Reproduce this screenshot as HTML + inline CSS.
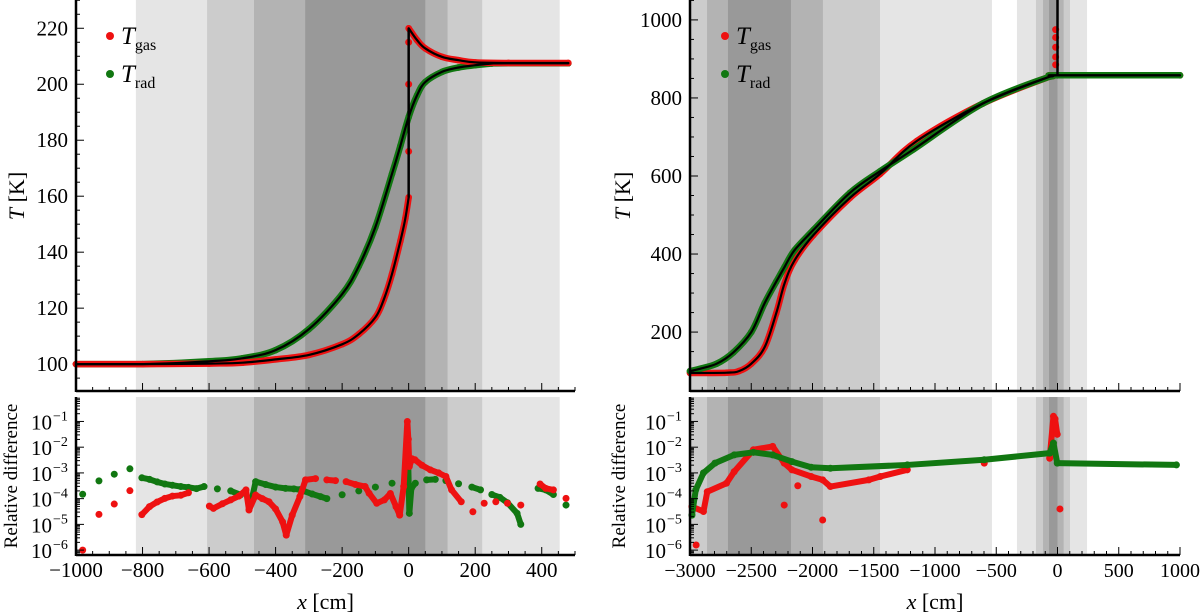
<!DOCTYPE html>
<html><head><meta charset="utf-8"><style>
html,body{margin:0;padding:0;background:#fff;}
svg{display:block;font-family:"Liberation Serif",serif;}
</style></head><body>
<svg id="fig" width="1200" height="614" viewBox="0 0 1200 614" xmlns="http://www.w3.org/2000/svg"></svg>
<script>
// ---------- LEFT PANEL DATA ----------
const leftBands = [[-820,454,'#e5e5e5'],[-606,221,'#cccccc'],[-465,117,'#b3b3b3'],[-311,50,'#999999']];
const leftGasX = [-1000,-800,-600,-500,-400,-300,-200,-150,-100,-75,-50,-25,-10,0];
const leftGasT = [100,100,100.2,100.5,101.7,103.3,107.1,110.7,116.7,123,132.2,144,152,159.6];
const leftGasPostX = [0,25,50,100,150,200,300,480];
const leftGasPostT = [220,215.8,212.8,209.8,208.6,207.8,207.6,207.6];
const leftGasShockT = [176,200,215];
const leftRadX = [-1000,-800,-600,-500,-400,-300,-200,-150,-100,-50,-25,0,25,50,100,150,200,250,300,480];
const leftRadT = [100,100,101,102.1,105,112.5,125,135,149,168,178,188.3,196,200.8,204.4,206,206.8,207.4,207.5,207.5];
const leftRelGasX = [-980,-931,-885,-838,-802,-779,-756,-733,-710,-685,-662,-599,-587,-560,-535,-510,-489,-480,-460,-440,-420,-400,-379,-368,-350,-327,-310,-280,-246,-220,-188,-160,-131,-119,-96,-73,-55,-38,-27,-15,-4,-1,2,10,19,40,65,90,112,129,158,193,227,262,297,337,395,412,435,473];
const leftRelGasL = [-6.0,-4.61,-4.21,-3.69,-4.62,-4.31,-4.13,-3.99,-3.90,-3.87,-3.77,-4.29,-4.38,-4.2,-4.05,-3.9,-3.66,-4.44,-3.86,-4.0,-4.12,-4.4,-4.90,-5.42,-4.64,-3.92,-3.27,-3.22,-3.27,-3.3,-3.34,-3.45,-3.53,-3.79,-4.18,-4.05,-3.8,-4.31,-4.64,-3.53,-1.0,-1.69,-2.75,-2.45,-2.49,-2.7,-2.88,-3.0,-3.14,-3.66,-4.12,-4.51,-4.18,-4.12,-4.18,-4.25,-3.43,-3.60,-3.66,-3.99];
const leftRelRadX = [-980,-931,-885,-838,-802,-779,-756,-733,-710,-685,-662,-638,-615,-575,-535,-505,-472,-460,-430,-400,-370,-345,-327,-316,-290,-265,-246,-200,-150,-100,-50,-9,-4,-2,2,8,20,54,80,112,150,190,216,250,274,297,326,337,389,412,435,473];
const leftRelRadL = [-3.83,-3.31,-3.05,-2.84,-3.19,-3.25,-3.35,-3.43,-3.48,-3.53,-3.56,-3.61,-3.53,-3.62,-3.70,-3.85,-4.05,-3.34,-3.45,-3.55,-3.6,-3.62,-3.65,-3.70,-3.82,-3.92,-4.0,-3.85,-3.7,-3.55,-3.4,-3.3,-2.4,-2.23,-4.57,-3.6,-3.4,-3.27,-3.25,-3.30,-3.42,-3.55,-3.66,-3.84,-3.95,-4.16,-4.57,-5.0,-3.60,-3.66,-3.84,-4.25];
const leftXTicks = [-1000,-800,-600,-400,-200,0,200,400];
const leftYTicks = [100,120,140,160,180,200,220];

// ---------- RIGHT PANEL DATA ----------
const rightBands = [[-3000,-535,'#e5e5e5'],[-3000,-1449,'#cccccc'],[-2861,-1915,'#b3b3b3'],[-2690,-2176,'#999999'],
  [-331,241,'#e5e5e5'],[-176,102,'#cccccc'],[-118,50,'#b3b3b3'],[-69,0,'#999999']];
const rightGasX = [-3000,-2700,-2600,-2500,-2391,-2296,-2228,-2146,-1991,-1694,-1449,-1147,-608,-61,0,1000];
const rightGasT = [95,96,100,119,161,248,325,384,449,544,605,690,786,855,858,858];
const rightRadX = [-3000,-2918,-2782,-2646,-2500,-2391,-2296,-2228,-2146,-1991,-1694,-1449,-1177,-608,-61,0,1000];
const rightRadT = [100,106,119,148,200,274,329,367,410,462,557,612,668,786,855,858,858];
const rightGasSpikeT = [885,905,930,955,975];
const rightRelRadX = [-2984,-2953,-2890,-2796,-2639,-2482,-2325,-2168,-2011,-1854,-1226,-598,-64,-33,-2,971];
const rightRelRadL = [-4.64,-3.66,-3.0,-2.62,-2.3,-2.2,-2.3,-2.56,-2.78,-2.82,-2.69,-2.49,-2.23,-1.84,-2.62,-2.69];
const rightRelGasX = [-2984,-2890,-2859,-2702,-2639,-2482,-2325,-2231,-2168,-2011,-1917,-1854,-1540,-1446,-1226,-598,-64,-33,-20,-2];
const rightRelGasL = [-4.31,-4.5,-3.73,-3.4,-2.95,-2.1,-1.97,-2.62,-2.88,-3.14,-3.27,-3.53,-3.27,-3.14,-2.88,-2.62,-2.43,-0.8,-0.9,-1.5];
const rightRelGasOutX = [-2950,-2231,-2120,-1917,20];
const rightRelGasOutL = [-5.8,-4.25,-3.5,-4.83,-4.4];
const rightXTicks = [-3000,-2500,-2000,-1500,-1000,-500,0,500,1000];
const rightYTicks = [200,400,600,800,1000];
const logTicks = [-6,-5,-4,-3,-2,-1];

const NS='http://www.w3.org/2000/svg';
const svg=document.getElementById('fig');
function mk(tag,attrs,parent){const e=document.createElementNS(NS,tag);for(const k in attrs)e.setAttribute(k,attrs[k]);(parent||svg).appendChild(e);return e;}
function lin(d0,d1,r0,r1){return v=>r0+(v-d0)*(r1-r0)/(d1-d0);}
const RED='#ee1111', GREEN='#117711';

function smoothPath(pts){
  // monotone-ish Catmull-Rom (drawing only)
  let d='M'+pts[0][0].toFixed(1)+','+pts[0][1].toFixed(1);
  for(let i=0;i<pts.length-1;i++){
    const p0=pts[Math.max(i-1,0)],p1=pts[i],p2=pts[i+1],p3=pts[Math.min(i+2,pts.length-1)];
    const t=1/6;
    let c1x=p1[0]+(p2[0]-p0[0])*t, c1y=p1[1]+(p2[1]-p0[1])*t;
    let c2x=p2[0]-(p3[0]-p1[0])*t, c2y=p2[1]-(p3[1]-p1[1])*t;
    const lo=Math.min(p1[1],p2[1]),hi=Math.max(p1[1],p2[1]);
    c1y=Math.min(hi,Math.max(lo,c1y)); c2y=Math.min(hi,Math.max(lo,c2y));
    d+=' C'+c1x.toFixed(1)+','+c1y.toFixed(1)+' '+c2x.toFixed(1)+','+c2y.toFixed(1)+' '+p2[0].toFixed(1)+','+p2[1].toFixed(1);
  }
  return d;
}

function drawPanel(c){
  const g=mk('g',{});
  
  
  const X=lin(c.xd[0],c.xd[1],c.px0,c.px1);
  const Y=lin(c.td[0],c.td[1],c.ty1,c.ty0);
  const L=lin(c.ld[0],c.ld[1],c.by1,c.by0);
  c.bands.forEach(b=>{
    [[c.ty0,c.ty1],[c.by0,c.by1]].forEach(r=>{
      const x0=Math.max(X(b[0]),c.px0), x1=Math.min(X(b[1]),c.px1);
      const e=mk('rect',{x:x0,y:r[0],width:x1-x0,height:r[1]-r[0],fill:b[2]},g);
      
      
    });
  });
  function curve(xs,ys,sc,col,w,nm){
    const e=mk('path',{d:smoothPath(xs.map((x,i)=>[X(x),sc(ys[i])])),fill:'none',stroke:col,'stroke-width':w,'stroke-linejoin':'round','stroke-linecap':'round'},g);
    
    
  }
  function dots(xs,ys,sc,col,r,nm){
    xs.forEach((x,i)=>{
      const e=mk('circle',{cx:X(x),cy:sc(ys[i]),r:r,fill:col},g);
      
      
    });
  }
  c.top.forEach(s=>{curve(s.x,s.y,Y,s.col,6.5,s.nm);dots(s.x,s.y,Y,s.col,3.3,s.nm+'-point');});
  c.top.forEach(s=>curve(s.x,s.y,Y,'#000',2.2,s.nm+'-exact'));
  c.extraTop(g,X,Y,dots);
  function relSeries(xs,ls,col,gap,nm){
    for(let i=1;i<xs.length;i++){
      if(xs[i]-xs[i-1]<=gap){
        const e=mk('line',{x1:X(xs[i-1]),y1:L(ls[i-1]),x2:X(xs[i]),y2:L(ls[i]),stroke:col,'stroke-width':6,'stroke-linecap':'round'},g);
        
        
      }
    }
    dots(xs,ls,L,col,3.5,nm+'-point');
  }
  c.rel.forEach(s=>relSeries(s.x,s.l,s.col,s.gap,s.nm));
  [[c.ty0,c.ty1],[c.by0,c.by1]].forEach(r=>{
    mk('line',{x1:c.px0,y1:r[0],x2:c.px0,y2:r[1]+1,stroke:'#000','stroke-width':2.5},g);
    mk('line',{x1:c.px0,y1:r[1],x2:c.px1,y2:r[1],stroke:'#000','stroke-width':2.5},g);
    for(let v=c.xd[0];v<=c.xd[1];v+=c.xMinor){
      const maj=Math.abs(v%c.xMajor)<1e-6;
      mk('line',{x1:X(v),y1:r[1],x2:X(v),y2:r[1]-(maj?8:4),stroke:'#000','stroke-width':1},g);
    }
  });
  for(let v=Math.ceil(c.td[0]/c.yMinor)*c.yMinor;v<=c.td[1];v+=c.yMinor){
    const maj=c.yTicks.includes(v);
    mk('line',{x1:c.px0,y1:Y(v),x2:c.px0+(maj?8:4),y2:Y(v),stroke:'#000','stroke-width':1},g);
  }
  c.yTicks.forEach(v=>{
    const t=mk('text',{x:c.px0-8,y:Y(v)+7,'text-anchor':'end','font-size':21},g);
    t.textContent=v;
    
    
  });
  for(let d=-7;d<=0;d++){
    for(let k=1;k<10;k++){
      const lv=d+Math.log10(k);
      if(lv<c.ld[0]||lv>c.ld[1])continue;
      mk('line',{x1:c.px0,y1:L(lv),x2:c.px0+(k==1?8:4),y2:L(lv),stroke:'#000','stroke-width':1},g);
    }
  }
  logTicks.forEach(d=>{
    const t=mk('text',{x:c.px0-24,y:L(d)+8,'text-anchor':'end','font-size':21},g);
    t.textContent='10';
    
    
    const s=mk('text',{x:c.px0-23,y:L(d)-1,'text-anchor':'start','font-size':14},g);
    s.textContent='−'+(-d);
  });
  c.xTicks.forEach(v=>{
    const t=mk('text',{x:X(v),y:577,'text-anchor':'middle','font-size':c.xfs},g);
    t.textContent=(v<0?'−':'')+Math.abs(v);
    
    
  });
  const xl=mk('text',{x:(c.px0+c.px1)/2,y:609,'text-anchor':'middle','font-size':22},g);
  xl.innerHTML='<tspan font-style="italic">x</tspan> [cm]';
  
  
  const yl=mk('text',{transform:`translate(${c.ylx},196) rotate(-90)`,'text-anchor':'middle','font-size':22},g);
  yl.innerHTML='<tspan font-style="italic">T</tspan> [K]';
  
  
  const rl=mk('text',{transform:`translate(${c.rlx},476) rotate(-90)`,'text-anchor':'middle','font-size':19},g);
  rl.textContent='Relative difference';
  
  
  [['gas',RED,36],['rad',GREEN,74]].forEach(l=>{
    const lg=mk('g',{},g);
    
    
    mk('circle',{cx:c.legx,cy:l[2],r:4,fill:l[1]},lg);
    const t=mk('text',{x:c.legx+11,y:l[2]+8,'font-size':25},lg);
    t.innerHTML='<tspan font-style="italic">T</tspan><tspan font-size="16" dy="6">'+l[0]+'</tspan>';
  });
}

drawPanel({name:'left-panel',px0:76,px1:575,xd:[-1000,500],ty0:0,ty1:391,td:[90.4,230.1],by0:397,by1:555,ld:[-6.19,-0.05],
  bands:leftBands,xMajor:200,xMinor:50,yMinor:5,yTicks:leftYTicks,xTicks:leftXTicks,xfs:21,ylx:24,rlx:17,legx:110,
  top:[{x:leftRadX,y:leftRadT,col:GREEN,nm:'t-rad-series'},{x:leftGasX,y:leftGasT,col:RED,nm:'t-gas-series'},{x:leftGasPostX,y:leftGasPostT,col:RED,nm:'t-gas-postshock-series'}],
  extraTop:(g,X,Y,dots)=>{
    dots(leftGasShockT.map(()=>0),leftGasShockT,Y,RED,3.5,'t-gas-shock-point');
    const e=mk('line',{x1:X(0),y1:Y(leftGasT[leftGasT.length-1]),x2:X(0),y2:Y(leftGasPostT[0]),stroke:'#000','stroke-width':2.5},g);
    
    
  },
  rel:[{x:leftRelRadX,l:leftRelRadL,col:GREEN,gap:31,nm:'rel-diff-rad'},{x:leftRelGasX,l:leftRelGasL,col:RED,gap:31,nm:'rel-diff-gas'}]
});
drawPanel({name:'right-panel',px0:690,px1:1180,xd:[-3000,1000],ty0:0,ty1:391,td:[49,1051],by0:397,by1:555,ld:[-6.19,-0.05],
  bands:rightBands,xMajor:500,xMinor:100,yMinor:50,yTicks:rightYTicks,xTicks:rightXTicks,xfs:20,ylx:630,rlx:625,legx:725,
  top:[{x:rightGasX,y:rightGasT,col:RED,nm:'t-gas-series'},{x:rightRadX,y:rightRadT,col:GREEN,nm:'t-rad-series'}],
  extraTop:(g,X,Y,dots)=>{
    dots(rightGasSpikeT.map(()=>-15),rightGasSpikeT,Y,RED,3.5,'t-gas-spike-point');
    const e=mk('line',{x1:X(0),y1:Y(858),x2:X(0),y2:0,stroke:'#000','stroke-width':2.5},g);
    
    
  },
  rel:[{x:rightRelGasX,l:rightRelGasL,col:RED,gap:400,nm:'rel-diff-gas'},{x:rightRelGasOutX,l:rightRelGasOutL,col:RED,gap:0,nm:'rel-diff-gas-outlier'},{x:rightRelRadX,l:rightRelRadL,col:GREEN,gap:1100,nm:'rel-diff-rad'}]
});
</script>
</body></html>
